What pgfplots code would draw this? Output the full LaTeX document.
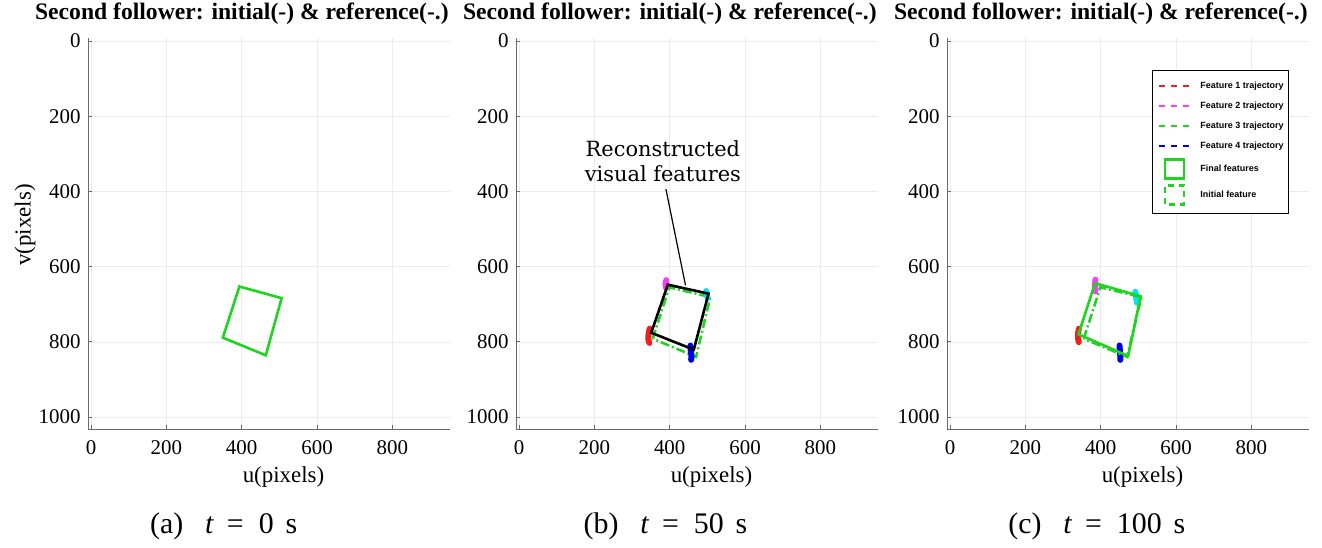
\documentclass[border=0pt]{standalone}
\usepackage{fontspec}
\setmainfont{Liberation Serif}
\setsansfont{Liberation Sans}
\newfontfamily\annfont{DejaVu Serif}
\usepackage{pgfplots}
\pgfplotsset{compat=1.18}

\definecolor{fgreen}{RGB}{30,212,30}
\definecolor{fred}{RGB}{240,30,30}
\definecolor{fmag}{RGB}{250,60,250}
\definecolor{fcyan}{RGB}{0,228,240}
\definecolor{fblue}{RGB}{0,0,230}
\definecolor{axgray}{RGB}{105,105,105}

\pgfplotsset{
  panel/.style={
    scale only axis, width=362bp, height=391bp,
    xmin=-8, xmax=953, ymin=-8, ymax=1032, y dir=reverse,
    axis x line*=bottom, axis y line*=left,
    xtick={0,200,...,800}, ytick={0,200,...,1000},
    grid=major, major grid style={black!8, line width=0.5bp},
    axis line style={axgray, line width=0.8bp},
    tick style={axgray, line width=0.8bp}, major tick length=4bp,
    tick align=inside,
    /pgf/number format/assume math mode=true,
    /pgf/number format/1000 sep={},
    tick label style={font=\fontsize{21}{21}\selectfont},
    xticklabel style={yshift=-8bp},
    yticklabel style={xshift=-4bp},
    label style={font=\fontsize{23}{23}\selectfont},
    title style={font=\fontsize{23.7}{24}\selectfont\bfseries,
      at={(axis description cs:0.425,1.046)}, anchor=center, inner sep=0pt},
    title={Second follower: initial(-) \& reference(-.)},
    xlabel={u(pixels)},
    xlabel style={at={(axis description cs:0.54,-0.095)}, anchor=north, inner sep=0pt},
    clip=false,
  },
  traj/.style={line width=6bp, line cap=round, line join=round, forget plot},
  sq/.style={fgreen, line width=2.6bp, line join=miter, forget plot},
  refsq/.style={fgreen, line width=2.6bp, line join=miter,
    dash pattern=on 9bp off 3bp on 2bp off 3bp, forget plot},
  recsq/.style={black, line width=2.6bp, line join=miter, forget plot},
}
\tikzset{subcaption/.style={font=\fontsize{30}{30}\selectfont}}
\newcommand\tcap[2]{(#1)\hspace{0.73em}\textit{t}\hspace{0.43em}=\hspace{0.5em}#2\hspace{0.4em}s}

\begin{document}
\begin{tikzpicture}
\useasboundingbox (0,0) rectangle (1322bp,548bp);

% (a) t = 0 s : initial image features
\begin{axis}[panel, at={(88bp,119bp)}, anchor=south west,
  ylabel={v(pixels)},
  ylabel style={at={(axis description cs:-0.174,0.522)}, anchor=center, inner sep=0pt}]
  \addplot[sq] coordinates {(350,789) (394,653) (506,684) (464,836) (350,789)} -- cycle;
  \node[subcaption] at (axis description cs:0.375,-0.25) {\tcap{a}{0}};
\end{axis}

% (b) t = 50 s : reference, reconstructed features and trajectories
\begin{axis}[panel, at={(516bp,119bp)}, anchor=south west]
  \addplot[refsq] coordinates {(355,792) (399,655) (508,681) (470,840) (355,792)} -- cycle;
  \addplot[traj, fred]  coordinates {(347,765) (344,778) (343,792) (346,803)};
  \addplot[traj, fmag]  coordinates {(391,636) (389,645) (390,656)};
  \addplot[traj, fcyan] coordinates {(497,665) (499,675) (501,684)};
  \addplot[traj, fblue] coordinates {(455,810) (456,825) (458,838) (457,848)};
  \addplot[recsq] coordinates {(351,776) (395,648) (503,672) (464,821) (351,776)} -- cycle;
  \node[font=\annfont\fontsize{21}{25}\selectfont, align=center]
    at (axis cs:382,319) {Reconstructed\\visual features};
  \draw[black, line width=1.2bp] (axis cs:390,394) -- (axis cs:442,650);
  \node[subcaption] at (axis description cs:0.413,-0.25) {\tcap{b}{50}};
\end{axis}

% (c) t = 100 s : final features against the reference
\begin{axis}[panel, at={(947bp,119bp)}, anchor=south west,
  legend cell align=left,
  legend style={at={(0.945,0.918)}, anchor=north east,
    draw=black, line width=0.8bp,
    font=\fontsize{9}{10}\sffamily\bfseries,
    inner xsep=3.5bp, inner ysep=10bp, row sep=9bp,
    nodes={inner sep=1.5bp}},
  legend image code/.code={
    \path[draw=none] (0bp,0bp) -- (42bp,0bp);
    \draw[#1] (3bp,0bp) -- (33bp,0bp);}]
  \addlegendimage{draw=fred, line width=1.8bp, dash pattern=on 6bp off 6bp}
  \addlegendentry{Feature 1 trajectory}
  \addlegendimage{draw=fmag, line width=1.8bp, dash pattern=on 6bp off 6bp}
  \addlegendentry{Feature 2 trajectory}
  \addlegendimage{draw=fgreen, line width=1.8bp, dash pattern=on 6bp off 6bp}
  \addlegendentry{Feature 3 trajectory}
  \addlegendimage{draw=fblue, line width=1.8bp, dash pattern=on 6bp off 6bp}
  \addlegendentry{Feature 4 trajectory}
  \addlegendimage{legend image code/.code={
    \path[draw=none] (0bp,-8.5bp) rectangle (43bp,8.5bp);
    \draw[overlay, fgreen, line width=2.4bp] (9bp,-9.5bp) rectangle (28bp,9.5bp);}}
  \addlegendentry{Final features}
  \addlegendimage{legend image code/.code={
    \path[draw=none] (0bp,-8.5bp) rectangle (43bp,8.5bp);
    \draw[overlay, fgreen, line width=2.4bp, dash pattern=on 6bp off 5bp] (9bp,-9.5bp) rectangle (28bp,9.5bp);}}
  \addlegendentry{Initial feature}

  \addplot[traj, fred]  coordinates {(342,765) (340,778) (340,792) (342,801)};
  \addplot[traj, fmag]  coordinates {(386,635) (385,648) (386,666)};
  \addplot[traj, fcyan] coordinates {(492,667) (494,680) (496,696)};
  \addplot[traj, fblue] coordinates {(450,810) (451,825) (452,838) (452,848)};
  \addplot[refsq] coordinates {(355,792) (399,655) (508,681) (470,840) (355,792)} -- cycle;
  \addplot[sq] coordinates {(341,780) (385,644) (506,679) (473,838) (341,780)} -- cycle;
  \node[subcaption] at (axis description cs:0.414,-0.25) {\tcap{c}{100}};
\end{axis}
\end{tikzpicture}
\end{document}
